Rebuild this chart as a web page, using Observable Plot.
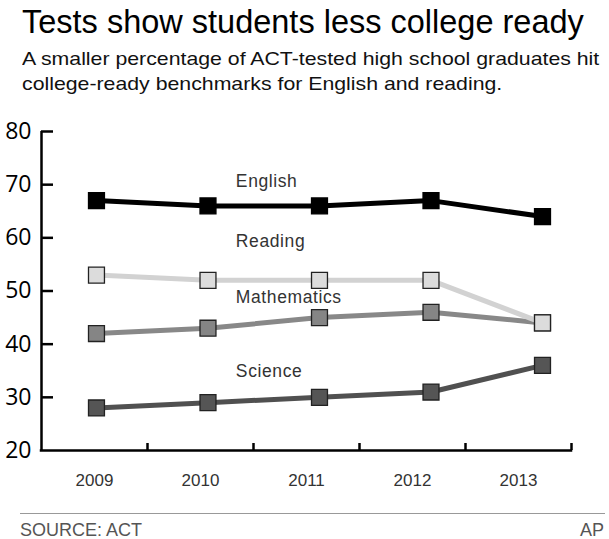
<!DOCTYPE html>
<html><head><meta charset="utf-8">
<script src="https://cdn.jsdelivr.net/npm/d3@7"></script>
<script src="https://cdn.jsdelivr.net/npm/@observablehq/plot@0.6"></script>
<style>
body{margin:0;background:#fff;}
#wrap{position:relative;width:609px;height:539px;overflow:hidden;font-family:"Liberation Sans",Arial,sans-serif;background:#fff}
#title{position:absolute;left:22px;top:3px;font-size:32.5px;line-height:38px;color:#000;white-space:nowrap}
#sub{position:absolute;left:22px;top:46px;font-size:19px;line-height:25px;color:#111;white-space:nowrap;transform:scaleX(1.12);transform-origin:0 0}
#chart{position:absolute;left:0;top:100px}
#rule{position:absolute;left:20px;width:585px;top:513px;height:0;border-top:1.5px solid #999}
#src{position:absolute;left:20px;top:520px;font-size:18px;color:#555;white-space:nowrap}
#ap{position:absolute;right:5px;top:520px;font-size:18px;color:#555}
.series-label text{letter-spacing:0.6px}
</style></head>
<body>
<div id="wrap">
  <div id="title">Tests show students less college ready</div>
  <div id="sub">A smaller percentage of ACT-tested high school graduates hit<br>college-ready benchmarks for English and reading.</div>
  <div id="chart"></div>
  <div id="rule"></div>
  <div id="src">SOURCE: ACT</div>
  <div id="ap">AP</div>
</div>
<script>
const years = [2009, 2010, 2011, 2012, 2013];
const english = [67, 66, 66, 67, 64];
const reading = [53, 52, 52, 52, 44];
const mathematics = [42, 43, 45, 46, 44];
const science = [28, 29, 30, 31, 36];
const yTicks = [20, 30, 40, 50, 60, 70, 80];
const xTickLabels = ["2009", "2010", "2011", "2012", "2013"];
const seriesNames = ["Science", "Mathematics", "Reading", "English"];
const labelValues = [33.9, 47.7, 58.2, 69.5]; // label anchors in value units, same order as seriesNames
const labelYear = 2010.25;

const seriesValues = {Science: science, Mathematics: mathematics, Reading: reading, English: english};
const lineColor = {Science: "#505050", Mathematics: "#888888", Reading: "#d2d2d2", English: "#000000"};
const dotFill = {Science: "#555555", Mathematics: "#858585", Reading: "#dcdcdc", English: "#000000"};
const dotStroke = {Science: "#222", Mathematics: "#222", Reading: "#222", English: "#000"};

const rows = seriesNames.flatMap(s => years.map((y, i) => ({series: s, year: y, value: seriesValues[s][i]})));

const xStart = 2008.507, xEnd = 2013.26;
const bandW = (xEnd - xStart) / 5;
const bounds = d3.range(1, 6).map(k => xStart + k * bandW);
const centers = xTickLabels.map((t, i) => ({label: t, x: xStart + (i + 0.5) * bandW}));

const W = 609, H = 400, mL = 41, mR = 38, mT = 31, mB = 50;
const frameW = W - mL - mR, frameH = H - mT - mB;

const marks = [
  Plot.ruleX([xStart], {y1: 20, y2: 80, stroke: "#000", strokeWidth: 2.5}),
  Plot.ruleY([20], {x1: xStart, x2: xEnd, stroke: "#000", strokeWidth: 2.5, strokeLinecap: "square"}),
  Plot.tickY(yTicks.filter(v => v > 20), {y: d => d, stroke: "#000", strokeWidth: 2.5, insetRight: frameW - 12}),
  Plot.tickX(bounds, {x: d => d, stroke: "#000", strokeWidth: 2.5, insetTop: frameH - 7}),
  Plot.text(yTicks, {x: xStart, y: d => d, dx: -10, textAnchor: "end", fontSize: 23, fontFamily: "Open Sans", fill: "#000"}),
  Plot.text(centers, {x: "x", y: 20, dy: 30, text: "label", fontSize: 17, fontFamily: "Liberation Sans", fill: "#333"}),
  Plot.text(seriesNames.map((s, i) => ({s, v: labelValues[i]})), {x: labelYear, y: "v", text: "s", textAnchor: "start", lineAnchor: "bottom", fontSize: 17.5, fontFamily: "Liberation Sans", fill: "#333", className: "series-label"})
];
for (const s of seriesNames) {
  const d = rows.filter(r => r.series === s);
  marks.push(Plot.line(d, {x: "year", y: "value", stroke: lineColor[s], strokeWidth: 5}));
  marks.push(Plot.dot(d, {x: "year", y: "value", symbol: "square", r: 9, fill: dotFill[s], stroke: dotStroke[s], strokeWidth: 1.3}));
}

const chart = Plot.plot({
  width: W, height: H,
  marginLeft: mL, marginRight: mR, marginTop: mT, marginBottom: mB,
  x: {domain: [xStart, xEnd], axis: null},
  y: {domain: [20, 80], axis: null},
  style: {background: "transparent", overflow: "visible"},
  marks
});
document.getElementById("chart").append(chart);
</script>
</body></html>
